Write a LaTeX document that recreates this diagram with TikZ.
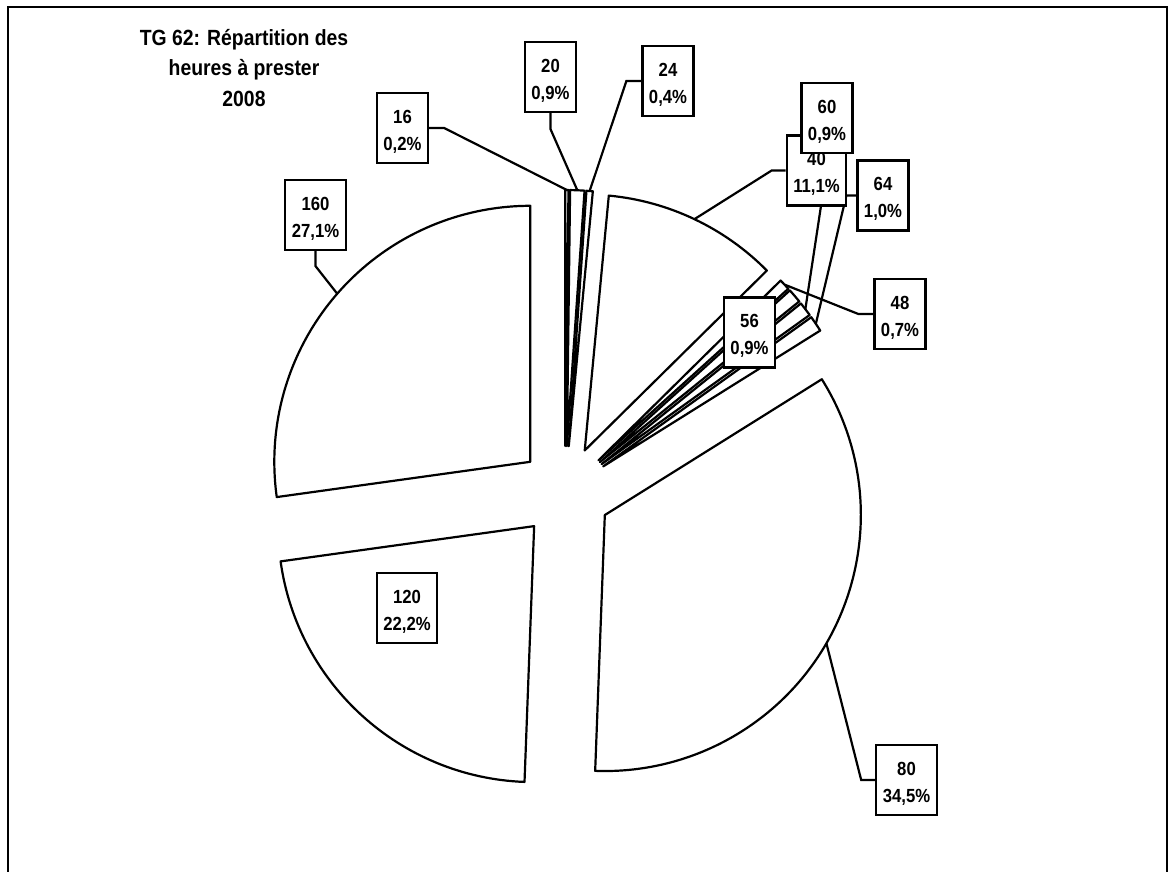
\documentclass[tikz,border=0pt]{standalone}
\usepackage{fontspec}
\setmainfont{Liberation Sans}[FakeStretch=0.88]
\newcommand{\lbtxt}[2]{\rule{0pt}{20pt}#1\\#2}
\begin{document}
\begin{tikzpicture}[x=1pt,y=-1pt,
  slice/.style={draw=black, fill=white, line width=2.2pt, line join=round},
  lead/.style={draw=black, line width=2.2pt},
  lbl/.style={draw=black, fill=white, line width=2.2pt, align=center, inner xsep=6.5pt, inner ysep=0pt, minimum height=70pt, font=\fontsize{19}{27}\selectfont\bfseries},
  charttitle/.style={align=center, font=\fontsize{22}{30.5}\selectfont\bfseries}]
\useasboundingbox (0,0) rectangle (1175,872);
\draw[line width=2.2pt] (8,872) -- (8,7) -- (1167,7) -- (1167,872);
\coordinate (C) at (565,492);
\foreach \n/\a/\b in {16/0/0.72, 20/0.72/3.96, 24/3.96/5.4, 40/5.4/45.36, 48/45.36/47.88, 56/47.88/51.12, 60/51.12/54.36, 64/54.36/57.96, 80/57.96/182.16, 120/182.16/262.08, 160/262.08/360}{
  \pgfmathsetmacro\ta{\a-90}
  \pgfmathsetmacro\tb{\b-90}
  \pgfmathsetmacro\tm{(\a+\b)/2-90}
  \draw[slice] ([shift={(\tm:46)}]C) coordinate (apex-\n) -- ++(\ta:256) arc[start angle=\ta, end angle=\tb, radius=256] -- cycle;
  \coordinate (m-\n) at ([shift={(\tm:302)}]C);
}
\node[charttitle] (title) at (244,68) {TG 62: Répartition des\\heures à prester\\2008};
% label boxes
\node[lbl] (b16) at (402.5,128) {\lbtxt{16}{0,2\%}};
\node[lbl] (b20) at (550.5,77) {\lbtxt{20}{0,9\%}};
\node[lbl] (b24) at (668,81) {\lbtxt{24}{0,4\%}};
\node[lbl] (b64) at (883,195.5) {\lbtxt{64}{1,0\%}};
\node[lbl] (b48) at (900,314) {\lbtxt{48}{0,7\%}};
\node[lbl] (b80) at (906.5,780) {\lbtxt{80}{34,5\%}};
\node[lbl] (b120) at (407,608) {\lbtxt{120}{22,2\%}};
\node[lbl] (b160) at (315.5,215) {\lbtxt{160}{27,1\%}};
% leaders
\draw[lead] (b16.east) -- ++(15,0) -- (m-16);
\draw[lead] (b20.south) -- ++(0,16) -- (m-20);
\draw[lead] (b24.west) -- ++(-15,0) -- (m-24);
\draw[lead] (b48.west) -- ++(-15,0) -- (m-48);
\draw[lead] (b64.west) -- ++(-10,0) -- (m-64);
\draw[lead] (b80.west) -- ++(-14,0) -- (m-80);
\draw[lead] (b160.south) -- ++(0,15) -- (m-160);
\coordinate (b60s) at (829,153);
\draw[lead] (b60s) -- (m-60);
\node[lbl] (b40) at (816.5,170.5) {\lbtxt{40}{11,1\%}};
\draw[lead] (b40.west) -- ++(-14,0) -- (m-40);
\node[lbl] (b60) at (827,118) {\lbtxt{60}{0,9\%}};
\node[lbl] (b56) at (749.5,332.5) {\lbtxt{56}{0,9\%}};
\end{tikzpicture}
\end{document}
